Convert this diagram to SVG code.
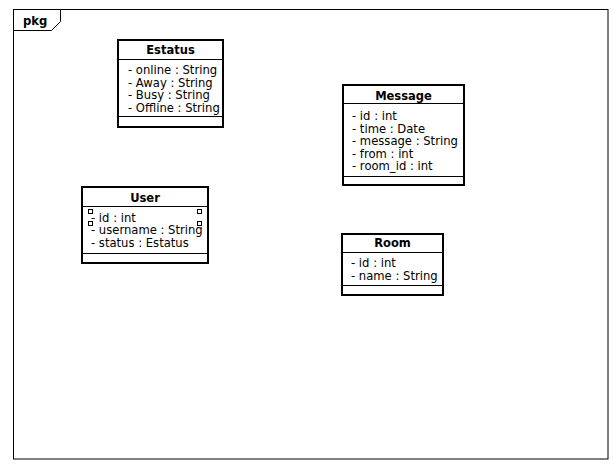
<svg xmlns="http://www.w3.org/2000/svg" width="613" height="470" viewBox="0 0 613 470">
<style>
  .box{fill:#fff;stroke:#000;stroke-width:2}
  .ln{stroke:#000;stroke-width:1;fill:none}
  .t{font-family:"DejaVu Sans",Verdana,sans-serif;font-size:11.6px;fill:#000}
  .b{font-family:"DejaVu Sans",Verdana,sans-serif;font-size:11.5px;font-weight:bold;fill:#000;text-anchor:middle}
  .sq{fill:#fff;stroke:#000;stroke-width:1}
</style>
<rect width="613" height="470" fill="#fff"/>
<g id="frame">
  <rect x="13.5" y="9.5" width="594.5" height="449.5" class="ln"/>
  <path d="M13.5,30.5 H51.5 L60.5,21.5 V9.5" class="ln"/>
  <text x="23" y="25" class="t" style="font-weight:bold">pkg</text>
</g>
<g id="connectors"></g>
<g id="Estatus">
  <rect x="118" y="40" width="105" height="87" class="box"/>
  <line x1="118" y1="59.5" x2="223" y2="59.5" class="ln"/>
  <line x1="118" y1="116.5" x2="223" y2="116.5" class="ln"/>
  <text x="170.5" y="54" class="b">Estatus</text>
  <text x="128" y="74" class="t">- online : String</text>
  <text x="128" y="86.5" class="t">- Away : String</text>
  <text x="128" y="99" class="t">- Busy : String</text>
  <text x="128" y="111.5" class="t">- Offline : String</text>
</g>
<g id="Message">
  <rect x="343" y="85" width="121" height="100" class="box"/>
  <line x1="343" y1="103.5" x2="464" y2="103.5" class="ln"/>
  <line x1="343" y1="176.5" x2="464" y2="176.5" class="ln"/>
  <text x="403.5" y="100" class="b">Message</text>
  <text x="352" y="120" class="t">- id : int</text>
  <text x="352" y="132.5" class="t">- time : Date</text>
  <text x="352" y="145" class="t">- message : String</text>
  <text x="352" y="157.5" class="t">- from : int</text>
  <text x="352" y="170" class="t">- room_id : int</text>
</g>
<g id="User">
  <rect x="82" y="187" width="126" height="76" class="box"/>
  <line x1="82" y1="206.5" x2="208" y2="206.5" class="ln"/>
  <line x1="82" y1="253.5" x2="208" y2="253.5" class="ln"/>
  <text x="145" y="202" class="b">User</text>
  <text x="91" y="221.5" class="t">- id : int</text>
  <text x="91" y="234" class="t">- username : String</text>
  <text x="91" y="246.5" class="t">- status : Estatus</text>
  <rect x="88.5" y="209.5" width="4" height="4" class="sq"/>
  <rect x="88.5" y="221.5" width="4" height="4" class="sq"/>
  <rect x="197.5" y="209.5" width="4" height="4" class="sq"/>
  <rect x="197.5" y="221.5" width="4" height="4" class="sq"/>
</g>
<g id="Room">
  <rect x="342" y="234" width="101" height="61" class="box"/>
  <line x1="342" y1="252.5" x2="443" y2="252.5" class="ln"/>
  <line x1="342" y1="285.5" x2="443" y2="285.5" class="ln"/>
  <text x="392.5" y="247" class="b">Room</text>
  <text x="351" y="267" class="t">- id : int</text>
  <text x="351" y="279.5" class="t">- name : String</text>
</g>
</svg>
